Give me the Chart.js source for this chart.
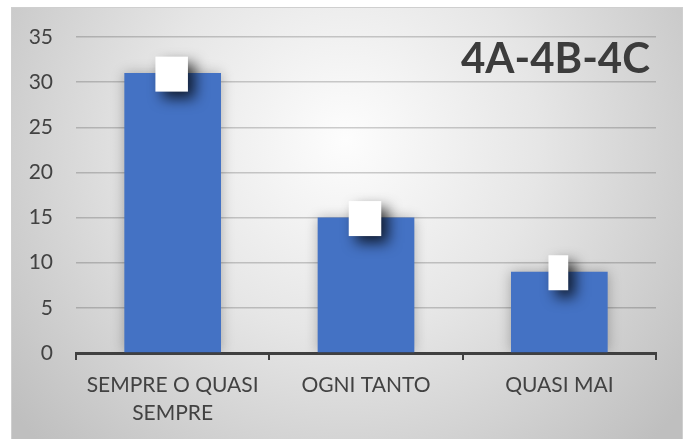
<!DOCTYPE html>
<html>
<head>
<meta charset="utf-8">
<script src="https://cdn.jsdelivr.net/npm/chart.js@4/dist/chart.umd.min.js"></script>
<style>
  html, body { margin: 0; padding: 0; background: #fff; }
  #wrap { width: 691px; height: 439px; position: relative; }
</style>
</head>
<body>
<div id="wrap"><canvas id="myChart" width="691" height="439"></canvas></div>
<script>
"use strict";

const categories = [["SEMPRE O QUASI", "SEMPRE"], "OGNI TANTO", "QUASI MAI"];
const answers = [31, 15, 9];
const yTicks = [0, 5, 10, 15, 20, 25, 30, 35];
const chartTitle = "4A-4B-4C";

const textColor = "#424242";
const barColor = "#4472C4";

// grey radial backdrop with a thin frame
const backdrop = {
  id: "backdrop",
  beforeDraw(chart) {
    const ctx = chart.ctx;
    ctx.save();
    ctx.fillStyle = "#ffffff";
    ctx.fillRect(0, 0, chart.width, chart.height);
    const g = ctx.createRadialGradient(345, 140, 0, 345, 140, 430);
    g.addColorStop(0, "#fdfdfd");
    g.addColorStop(0.45, "#e6e6e6");
    g.addColorStop(1, "#bfbfbf");
    ctx.fillStyle = g;
    ctx.fillRect(11, 7, 672, 432);
    ctx.strokeStyle = "#cfcfcf";
    ctx.lineWidth = 1;
    ctx.strokeRect(11.5, 7.5, 671, 432);
    ctx.restore();
  }
};

// soft shadow round the bars
const barShadow = {
  id: "barShadow",
  beforeDatasetsDraw(chart) {
    const ctx = chart.ctx;
    ctx.save();
    ctx.shadowColor = "rgba(0,0,0,0.28)";
    ctx.shadowBlur = 12;
    ctx.shadowOffsetX = 0;
    ctx.shadowOffsetY = 0;
  },
  afterDatasetsDraw(chart) {
    chart.ctx.restore();
  }
};

// white value boxes at the end of each bar, plus the big title
const valueBoxes = {
  id: "valueBoxes",
  afterDatasetsDraw(chart) {
    const ctx = chart.ctx;
    const meta = chart.getDatasetMeta(0);
    ctx.save();
    ctx.font = "22px Lato";
    meta.data.forEach((bar, i) => {
      const txt = String(answers[i]);
      const w = ctx.measureText(txt).width + 7;
      const h = 35;
      const x = bar.x - w / 2 - 1;
      const y = bar.y + 1 - h / 2;
      ctx.shadowColor = "rgba(0,0,0,0.75)";
      ctx.shadowBlur = 14;
      ctx.shadowOffsetX = 7;
      ctx.shadowOffsetY = 7;
      ctx.fillStyle = "#ffffff";
      ctx.fillRect(x, y, w, h);
      ctx.shadowColor = "transparent";
      ctx.fillStyle = "#ffffff";
      ctx.textAlign = "center";
      ctx.textBaseline = "middle";
      ctx.fillText(txt, bar.x - 1, bar.y + 1);
    });
    ctx.shadowColor = "transparent";
    ctx.font = "bold 42px Lato";
    ctx.fillStyle = "#3c3c3c";
    ctx.textAlign = "right";
    ctx.textBaseline = "alphabetic";
    ctx.fillText(chartTitle, 650, 73);
    ctx.restore();
  }
};

const ctx = document.getElementById("myChart").getContext("2d");
new Chart(ctx, {
  type: "bar",
  data: {
    labels: categories,
    datasets: [{
      data: answers,
      backgroundColor: barColor,
      borderWidth: 0,
      categoryPercentage: 1,
      barPercentage: 0.5
    }]
  },
  options: {
    responsive: false,
    animation: false,
    layout: { padding: { left: 11, right: 35, top: 37, bottom: 0 } },
    plugins: {
      legend: { display: false },
      tooltip: { enabled: false }
    },
    scales: {
      x: {
        grid: {
          offset: true,
          drawOnChartArea: false,
          drawTicks: true,
          tickLength: 7,
          color: "#404040",
          lineWidth: 2
        },
        border: { display: true, color: "#404040", width: 3 },
        ticks: {
          color: textColor,
          font: { family: "Lato", size: 21, lineHeight: 1.3 },
          padding: 12,
          maxRotation: 0,
          autoSkip: false
        },
        afterFit(scale) { scale.height = 86; }
      },
      y: {
        min: yTicks[0],
        max: yTicks[yTicks.length - 1],
        afterBuildTicks(scale) {
          scale.ticks = yTicks.map(v => ({ value: v }));
        },
        grid: {
          drawTicks: false,
          color: "rgba(0,0,0,0.19)",
          lineWidth: 1.5
        },
        border: { display: false },
        ticks: {
          color: textColor,
          font: { family: "Lato", size: 21 },
          padding: 23
        },
        afterFit(scale) { scale.width = 65; }
      }
    }
  },
  plugins: [backdrop, barShadow, valueBoxes]
});
</script>
</body>
</html>
